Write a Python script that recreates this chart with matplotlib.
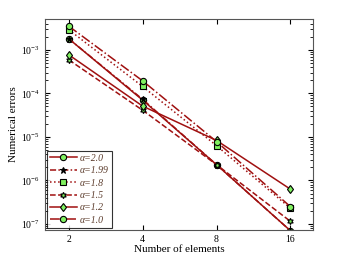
import matplotlib
matplotlib.use('Agg')
import matplotlib.pyplot as plt

plt.rcParams['font.family'] = ['Liberation Serif', 'DejaVu Serif']
plt.rcParams['mathtext.fontset'] = 'stix'

elements = [2, 4, 8, 16]
labels = ['α=2.0', 'α=1.99', 'α=1.8', 'α=1.5', 'α=1.2', 'α=1.0']
err_20 = [1.8e-3, 7.0e-5, 2.3e-6, 7.0e-8]
err_199 = [1.8e-3, 7.3e-5, 2.3e-6, 7.0e-8]
err_18 = [2.9e-3, 1.44e-4, 6.3e-6, 2.3e-7]
err_15 = [5.9e-4, 4.1e-5, 2.3e-6, 1.15e-7]
err_12 = [7.7e-4, 5.1e-5, 8.3e-6, 6.3e-7]
err_10 = [3.5e-3, 1.94e-4, 7.8e-6, 2.5e-7]

red = '#a01010'
green = '#80f060'
styles = [
    (err_20, '-', 'o', green),
    (err_199, (0, (4, 1.5, 1, 1.5)), '*', 'black'),
    (err_18, ':', 's', green),
    (err_15, '--', (6, 1, 0), green),
    (err_12, '-', 'd', green),
    (err_10, '-.', 'o', green),
]

fig, ax = plt.subplots(figsize=(3.46, 2.61), dpi=100)
for (vals, ls, mk, fc), lab in zip(styles, labels):
    ax.plot(elements, vals, linestyle=ls, color=red, lw=1.1, marker=mk,
            markersize=4.5, markerfacecolor=fc, markeredgecolor='black',
            markeredgewidth=0.8, label=lab)

ax.set_xscale('log', base=2)
ax.set_yscale('log')
ax.set_xlim(1.6, 19.8)
ax.set_ylim(7.4e-8, 5.1e-3)
ax.set_xticks(elements)
ax.set_xticklabels([str(e) for e in elements])
ax.xaxis.set_minor_locator(matplotlib.ticker.NullLocator())
ax.tick_params(which='both', direction='in', top=True, right=True, labelsize=7)
ax.set_xlabel('Number of elements', fontsize=8, labelpad=1)
ax.set_ylabel('Numerical errors', fontsize=8, labelpad=2)
for s in ax.spines.values():
    s.set_color('#555555')

leg = ax.legend(loc='lower left', fontsize=7, frameon=True, fancybox=False,
                edgecolor='black', borderpad=0.3, labelspacing=0.35,
                handlelength=2.8, handletextpad=0.3, borderaxespad=0.2)
leg.get_frame().set_linewidth(0.8)
for t in leg.get_texts():
    t.set_color('#5a3a2a')
    t.set_fontstyle('italic')

fig.subplots_adjust(left=0.13, right=0.905, top=0.927, bottom=0.12)
fig.savefig('out.png', dpi=100)
